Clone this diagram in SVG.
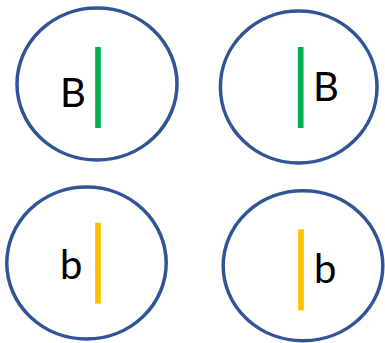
<svg xmlns="http://www.w3.org/2000/svg" width="385" height="343" viewBox="0 0 385 343">
<style>
.c{fill:#fff;stroke:#2F5597;stroke-width:3.5}
.g{stroke:#00B050;stroke-width:5.7}
.y{stroke:#FFC000;stroke-width:5.7}
.t{font-family:Lato,"Liberation Sans",sans-serif;font-size:40px;fill:#000}
</style>
<rect width="385" height="343" fill="#fff"/>
<g id="cell1">
<ellipse class="c" cx="97" cy="84" rx="80" ry="76"/>
<line class="g" x1="98" y1="47" x2="98" y2="128"/>
<text class="t" x="60" y="107">B</text>
</g>
<g id="cell2">
<ellipse class="c" cx="298.7" cy="87" rx="78.3" ry="76"/>
<line class="g" x1="300.7" y1="47" x2="300.7" y2="128"/>
<text class="t" x="313" y="101">B</text>
</g>
<g id="cell3">
<ellipse class="c" cx="86.5" cy="263" rx="79.7" ry="76"/>
<line class="y" x1="98" y1="222.7" x2="98" y2="303.7"/>
<text class="t" x="60" y="279">b</text>
</g>
<g id="cell4">
<ellipse class="c" cx="303" cy="265.7" rx="79.8" ry="75"/>
<line class="y" x1="301" y1="229.3" x2="301" y2="310.3"/>
<text class="t" x="314" y="282.7">b</text>
</g>
</svg>
